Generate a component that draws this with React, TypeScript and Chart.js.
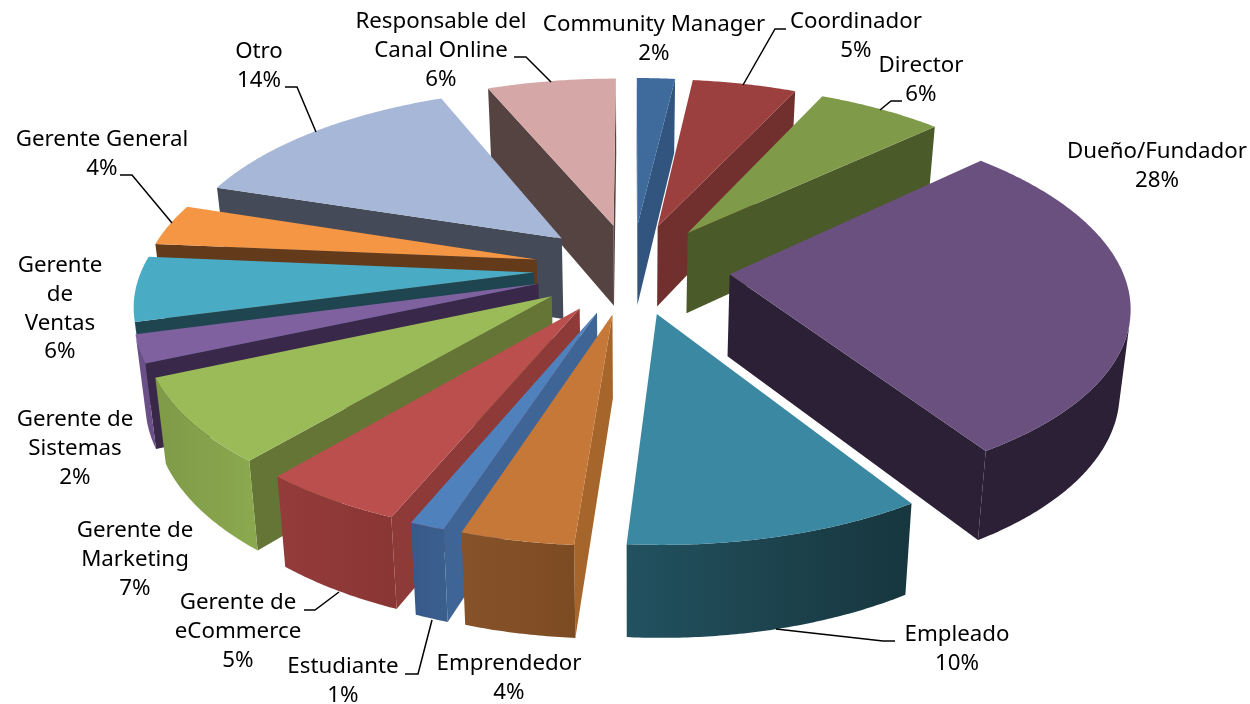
import React, { useEffect, useRef } from "react";
import { Chart, registerables } from "chart.js";

Chart.register(...registerables);

const categories = [
  "Community Manager", "Coordinador", "Director", "Dueño/Fundador", "Empleado", "Emprendedor", "Estudiante",
  "Gerente de eCommerce", "Gerente de Marketing", "Gerente de Sistemas", "Gerente de Ventas", "Gerente General",
  "Otro", "Responsable del Canal Online",
];
const shares = [1.85, 5.05, 6.1, 28, 10.15, 3.85, 1.2, 4.9, 7.3, 2.4, 5.6, 3.6, 13.75, 6.25];

const topColors = ["#3e6a9c", "#9b403e", "#7f9a48", "#69507f", "#3b88a2", "#c67838", "#4f81bd", "#bb4f4d", "#9bbb59", "#80619f", "#4aabc5", "#f59645", "#a7b7d7", "#d6a7a7"];
const wallColors = ["#32557f", "#712f2e", "#4a5a28", "#2b2035", "#1f4550", "#a5652b", "#3e6595", "#8d3a39", "#647535", "#39284a", "#1f4550", "#633a1a", "#444a57", "#554342"];
const rimStart = ["#32557f", "#712f2e", "#4a5a28", "#2b2035", "#17363e", "#7d4b22", "#3a5f8d", "#8a3635", "#8aa84e", "#6a5086", "#1f4550", "#633a1a", "#444a57", "#554342"];
const rimEnd = ["#32557f", "#712f2e", "#4a5a28", "#2b2035", "#22515f", "#86522a", "#38598a", "#943b3b", "#7f9a48", "#6a5086", "#1f4550", "#633a1a", "#444a57", "#554342"];

const labelLines = [
  ["Community Manager", "2%"], ["Coordinador", "5%"], ["Director", "6%"], ["Dueño/Fundador", "28%"], ["Empleado", "10%"],
  ["Emprendedor", "4%"], ["Estudiante", "1%"], ["Gerente de", "eCommerce", "5%"], ["Gerente de", "Marketing", "7%"],
  ["Gerente de", "Sistemas", "2%"], ["Gerente", "de", "Ventas", "6%"], ["Gerente General", "4%"], ["Otro", "14%"],
  ["Responsable del", "Canal Online", "6%"],
];
const labelAnchors = [
  [654, 25], [856, 22], [921, 66], [1157, 152], [957, 635], [509, 664], [343, 667],
  [238, 603], [135, 531], [75, 420], [60, 266], [102, 140], [259, 52], [441, 22],
];
const leaders = [
  [[786, 29], [775, 29], [743, 85]],
  [[902, 101], [891, 101], [880, 110]],
  [[895, 641], [883, 641], [776, 629]],
  [[405, 674], [418, 674], [432, 620]],
  [[304, 610], [315, 610], [339, 592]],
  [[120, 175], [132, 175], [172, 223]],
  [[285, 87], [297, 87], [316, 132]],
  [[514, 57], [526, 57], [551, 82]],
];

const VIEW = { cx: 632, cy: 268.5, sx: 392, sy: 181, p: 0.15, shrink: 0.978, dropA: 70.9, dropB: 1.0405 };
const LINE_H = 28.6;
const FONT = '22.3px "Noto Sans"';

type Pt = { x: number; y: number };

const projectTop = (X: number, Y: number): Pt => {
  const w = 1 + VIEW.p * Y;
  return { x: VIEW.cx + (VIEW.sx * X) / w, y: VIEW.cy - (VIEW.sy * Y) / w };
};
const dropDown = (q: Pt): Pt => ({
  x: VIEW.cx + (q.x - VIEW.cx) * VIEW.shrink,
  y: VIEW.dropA + VIEW.dropB * q.y,
});
const signedArea = (pts: Pt[]) => {
  let area = 0;
  pts.forEach((q, i) => {
    const r = pts[(i + 1) % pts.length];
    area += q.x * r.y - r.x * q.y;
  });
  return area;
};
const fillPoly = (ctx: CanvasRenderingContext2D, pts: Pt[], color: any) => {
  ctx.beginPath();
  pts.forEach((q, i) => (i ? ctx.lineTo(q.x, q.y) : ctx.moveTo(q.x, q.y)));
  ctx.closePath();
  ctx.fillStyle = color;
  ctx.fill();
};
const wall = (ctx: CanvasRenderingContext2D, pts: Pt[], color: string) => {
  if (signedArea(pts) < 0) fillPoly(ctx, pts, color);
};

const pie3d = {
  id: "pie3d",
  beforeDatasetDraw(chart: any) {
    const ctx: CanvasRenderingContext2D = chart.ctx;
    const arcs: any[] = chart.getDatasetMeta(0).data;
    const slices = arcs.map((el, i) => {
      const { startAngle, endAngle, outerRadius } = el.getProps(["startAngle", "endAngle", "outerRadius"]);
      const mid = (startAngle + endAngle) / 2;
      const off = el.options.offset;
      const ox = Math.cos(mid) * off;
      const oy = Math.sin(mid) * off;
      const at = (angle: number, r: number) =>
        projectTop((ox + Math.cos(angle) * r) / outerRadius, -(oy + Math.sin(angle) * r) / outerRadius);
      return { i, startAngle, endAngle, outerRadius, at, depth: -oy / outerRadius, color: el.options.backgroundColor };
    });
    slices.sort((a, b) => b.depth - a.depth);
    ctx.save();
    for (const s of slices) {
      const apex = s.at(0, 0);
      const n = Math.max(8, Math.ceil(((s.endAngle - s.startAngle) * 360) / Math.PI));
      const rim: Pt[] = [];
      for (let k = 0; k <= n; k++) rim.push(s.at(s.startAngle + ((s.endAngle - s.startAngle) * k) / n, s.outerRadius));
      // radial walls
      wall(ctx, [rim[n], apex, dropDown(apex), dropDown(rim[n])], wallColors[s.i]);
      wall(ctx, [apex, rim[0], dropDown(rim[0]), dropDown(apex)], wallColors[s.i]);
      // curved outer wall: only the run of segments that faces the viewer
      const visible = (k: number) => signedArea([rim[k], rim[k + 1], dropDown(rim[k + 1]), dropDown(rim[k])]) < 0;
      let first = -1;
      let last = -1;
      for (let k = 0; k < n; k++) {
        if (visible(k)) {
          if (first < 0) first = k;
          last = k + 1;
        }
      }
      if (first >= 0) {
        const run = rim.slice(first, last + 1);
        const poly = [...run, ...run.map(dropDown).reverse()];
        const grad = ctx.createLinearGradient(run[0].x, 0, run[run.length - 1].x + 0.01, 0);
        grad.addColorStop(0, rimStart[s.i]);
        grad.addColorStop(1, rimEnd[s.i]);
        fillPoly(ctx, poly, grad);
      }
      // top face
      fillPoly(ctx, [apex, ...rim], s.color);
    }
    ctx.restore();
    return false;
  },
  afterDraw(chart: any) {
    const ctx: CanvasRenderingContext2D = chart.ctx;
    ctx.save();
    ctx.strokeStyle = "#000";
    ctx.lineWidth = 1.5;
    for (const path of leaders) {
      ctx.beginPath();
      path.forEach(([x, y], i) => (i ? ctx.lineTo(x, y) : ctx.moveTo(x, y)));
      ctx.stroke();
    }
    ctx.fillStyle = "#000";
    ctx.font = FONT;
    ctx.textAlign = "center";
    ctx.textBaseline = "middle";
    labelLines.forEach((lines, i) => {
      const [x, y] = labelAnchors[i];
      lines.forEach((t, j) => ctx.fillText(t, x, y + j * LINE_H));
    });
    ctx.restore();
  },
};

export default function App() {
  const ref = useRef<HTMLCanvasElement>(null);
  useEffect(() => {
    document.body.style.margin = "0";
    const chart = new Chart(ref.current!, {
      type: "pie",
      data: {
        labels: categories,
        datasets: [{ data: shares, backgroundColor: topColors, borderWidth: 0, offset: 50, clip: false } as any],
      },
      options: {
        animation: false,
        responsive: false,
        events: [],
        radius: 200,
        layout: { padding: 0 },
        plugins: { legend: { display: false }, tooltip: { enabled: false } },
      } as any,
      plugins: [pie3d as any],
    });
    return () => chart.destroy();
  }, []);
  return <canvas ref={ref} width={1250} height={704} style={{ display: "block", background: "#fff" }} />;
}
